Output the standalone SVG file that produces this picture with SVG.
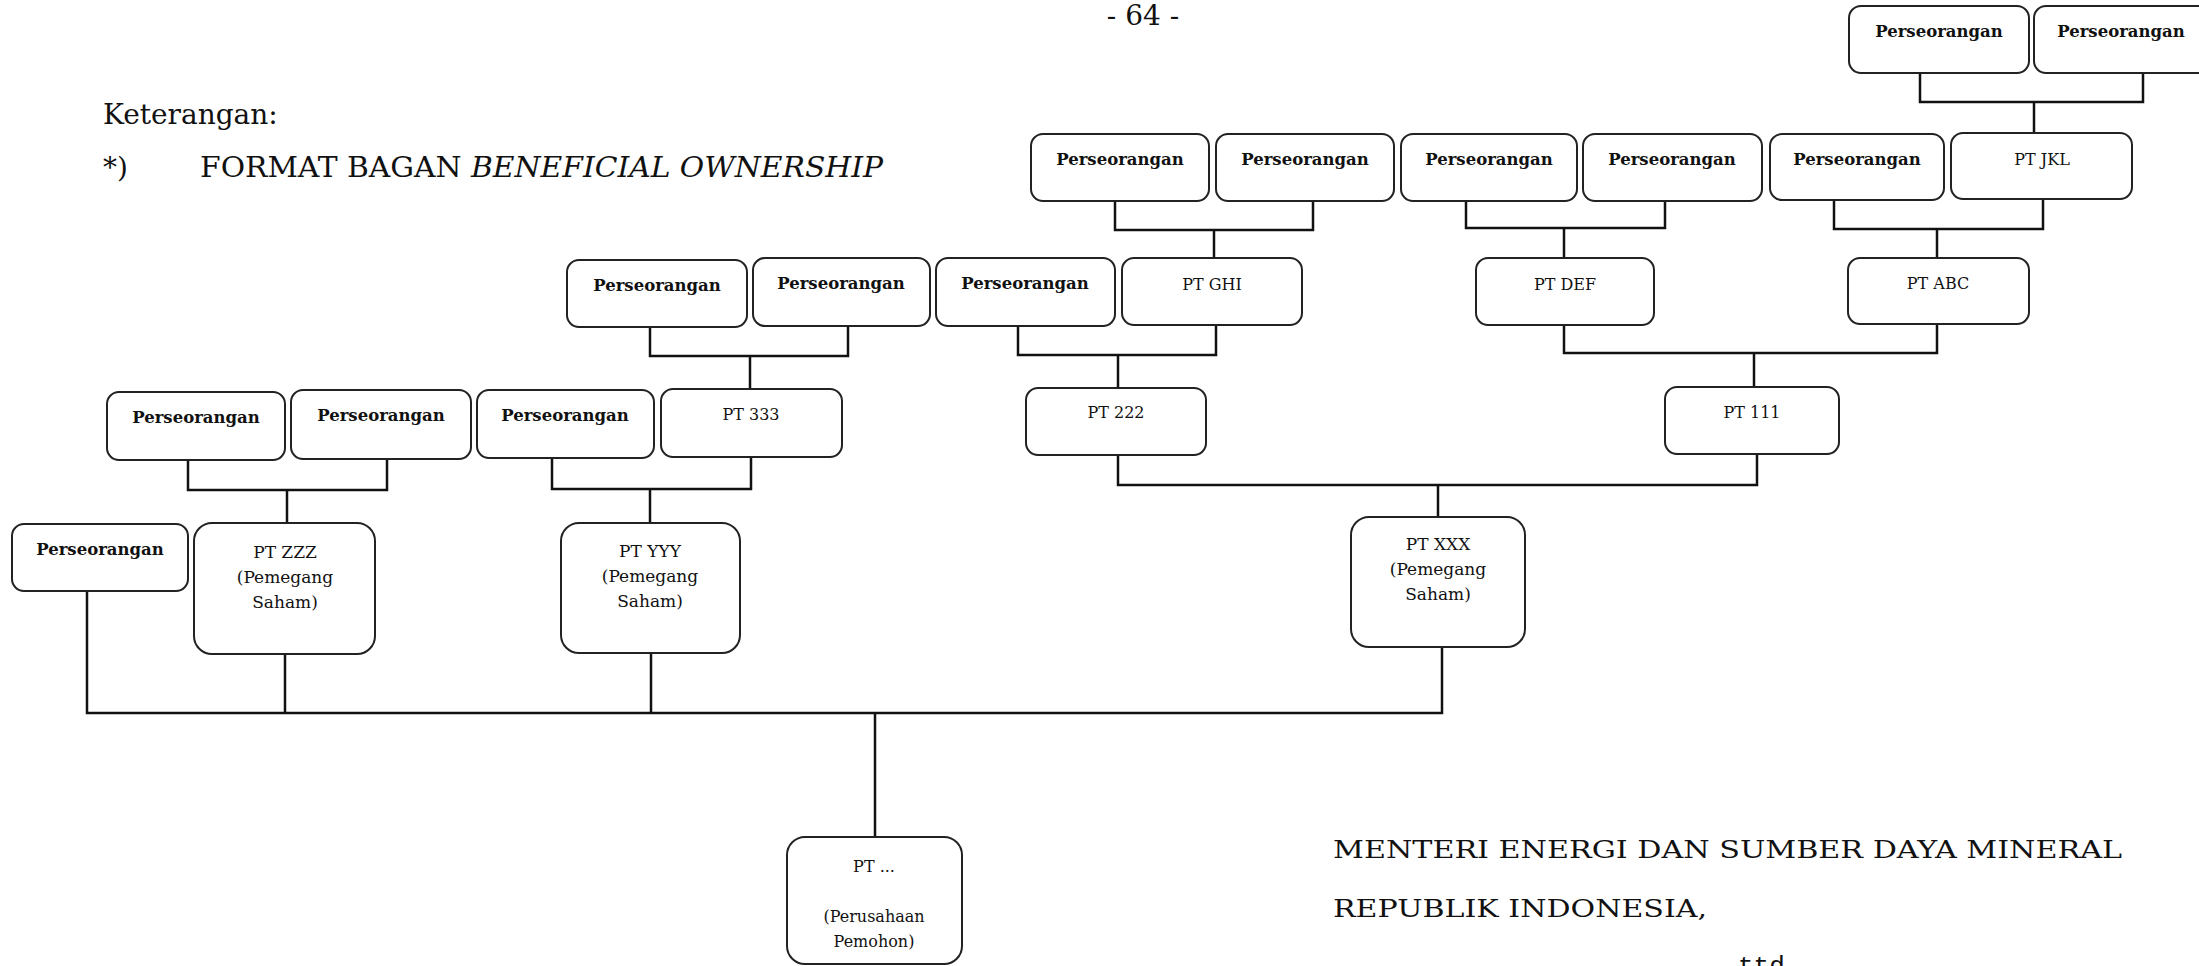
<svg xmlns="http://www.w3.org/2000/svg" width="2199" height="966" viewBox="0 0 2199 966">
<style>
.box{fill:#fff;stroke:#222;stroke-width:2}
.b{font-family:"DejaVu Serif","Liberation Serif",serif;font-weight:bold;font-size:16.5px;fill:#111;text-anchor:middle}
.r{font-family:"DejaVu Serif","Liberation Serif",serif;font-size:16px;fill:#111;text-anchor:middle}
.t{font-family:"DejaVu Serif","Liberation Serif",serif;font-size:17px;fill:#111;text-anchor:middle}
.hdr{font-family:"DejaVu Serif","Liberation Serif",serif;font-size:28px;fill:#111}
.sig{font-family:"DejaVu Serif","Liberation Serif",serif;font-size:24px;fill:#111}
.con{fill:none;stroke:#111;stroke-width:2.5}
</style>
<rect width="2199" height="966" fill="#fff"/>
<text class="hdr" x="1143" y="25" text-anchor="middle">- 64 -</text>
<text class="hdr" x="103" y="124">Keterangan:</text>
<text class="hdr" x="103" y="177">*)</text>
<text class="hdr" x="200" y="177" textLength="683" lengthAdjust="spacingAndGlyphs">FORMAT BAGAN <tspan font-style="italic">BENEFICIAL OWNERSHIP</tspan></text>

<g id="connectors">
<path class="con" d="M1920 73V102H2143V73M2034 102V133"/>
<path class="con" d="M1115 201V230H1313V201M1214 230V258"/>
<path class="con" d="M1466 201V228H1665V201M1564 228V258"/>
<path class="con" d="M1834 200V229H2043V199M1937 229V258"/>
<path class="con" d="M650 327V356H848V326M750 356V389"/>
<path class="con" d="M1018 326V355H1216V325M1118 355V388"/>
<path class="con" d="M1564 325V353H1937V324M1754 353V387"/>
<path class="con" d="M188 460V490H387V459M287 490V523"/>
<path class="con" d="M552 458V489H751V457M650 489V522"/>
<path class="con" d="M1118 455V485H1757V454M1438 485V517"/>
<path class="con" d="M87 591V713H1442V647M285 654V713M651 653V713M875 713V837"/>
</g>

<g id="n-a1"><rect class="box" x="1849" y="6" width="180" height="67" rx="12"/><text class="b" x="1939" y="37">Perseorangan</text></g>
<g id="n-a2"><rect class="box" x="2034" y="6" width="178" height="67" rx="12"/><text class="b" x="2121" y="37">Perseorangan</text></g>

<g id="n-b1"><rect class="box" x="1031" y="134" width="178" height="67" rx="12"/><text class="b" x="1120" y="165">Perseorangan</text></g>
<g id="n-b2"><rect class="box" x="1216" y="134" width="178" height="67" rx="12"/><text class="b" x="1305" y="165">Perseorangan</text></g>
<g id="n-b3"><rect class="box" x="1401" y="134" width="176" height="67" rx="12"/><text class="b" x="1489" y="165">Perseorangan</text></g>
<g id="n-b4"><rect class="box" x="1583" y="134" width="179" height="67" rx="12"/><text class="b" x="1672" y="165">Perseorangan</text></g>
<g id="n-b5"><rect class="box" x="1770" y="134" width="174" height="66" rx="12"/><text class="b" x="1857" y="165">Perseorangan</text></g>
<g id="n-jkl"><rect class="box" x="1951" y="133" width="181" height="66" rx="12"/><text class="r" x="2042" y="165">PT JKL</text></g>

<g id="n-c1"><rect class="box" x="567" y="260" width="180" height="67" rx="12"/><text class="b" x="657" y="291">Perseorangan</text></g>
<g id="n-c2"><rect class="box" x="753" y="258" width="177" height="68" rx="12"/><text class="b" x="841" y="289">Perseorangan</text></g>
<g id="n-c3"><rect class="box" x="936" y="258" width="179" height="68" rx="12"/><text class="b" x="1025" y="289">Perseorangan</text></g>
<g id="n-ghi"><rect class="box" x="1122" y="258" width="180" height="67" rx="12"/><text class="r" x="1212" y="290">PT GHI</text></g>
<g id="n-def"><rect class="box" x="1476" y="258" width="178" height="67" rx="12"/><text class="r" x="1565" y="290">PT DEF</text></g>
<g id="n-abc"><rect class="box" x="1848" y="258" width="181" height="66" rx="12"/><text class="r" x="1938" y="289">PT ABC</text></g>

<g id="n-d1"><rect class="box" x="107" y="392" width="178" height="68" rx="12"/><text class="b" x="196" y="423">Perseorangan</text></g>
<g id="n-d2"><rect class="box" x="291" y="390" width="180" height="69" rx="12"/><text class="b" x="381" y="421">Perseorangan</text></g>
<g id="n-d3"><rect class="box" x="477" y="390" width="177" height="68" rx="12"/><text class="b" x="565" y="421">Perseorangan</text></g>
<g id="n-333"><rect class="box" x="661" y="389" width="181" height="68" rx="12"/><text class="r" x="751" y="420">PT 333</text></g>
<g id="n-222"><rect class="box" x="1026" y="388" width="180" height="67" rx="12"/><text class="r" x="1116" y="418">PT 222</text></g>
<g id="n-111"><rect class="box" x="1665" y="387" width="174" height="67" rx="12"/><text class="r" x="1752" y="418">PT 111</text></g>

<g id="n-e1"><rect class="box" x="12" y="524" width="176" height="67" rx="12"/><text class="b" x="100" y="555">Perseorangan</text></g>
<g id="n-zzz"><rect class="box" x="194" y="523" width="181" height="131" rx="18"/><text class="t" x="285" y="558">PT ZZZ</text><text class="t" x="285" y="583">(Pemegang</text><text class="t" x="285" y="608">Saham)</text></g>
<g id="n-yyy"><rect class="box" x="561" y="523" width="179" height="130" rx="18"/><text class="t" x="650" y="557">PT YYY</text><text class="t" x="650" y="582">(Pemegang</text><text class="t" x="650" y="607">Saham)</text></g>
<g id="n-xxx"><rect class="box" x="1351" y="517" width="174" height="130" rx="18"/><text class="t" x="1438" y="550">PT XXX</text><text class="t" x="1438" y="575">(Pemegang</text><text class="t" x="1438" y="600">Saham)</text></g>

<g id="n-pt"><rect class="box" x="787" y="837" width="175" height="127" rx="18"/><text class="r" x="874" y="872">PT ...</text><text class="r" x="874" y="922">(Perusahaan</text><text class="r" x="874" y="947">Pemohon)</text></g>

<text class="sig" x="1333" y="858" textLength="789" lengthAdjust="spacingAndGlyphs">MENTERI ENERGI DAN SUMBER DAYA MINERAL</text>
<text class="sig" x="1333" y="917" textLength="374" lengthAdjust="spacingAndGlyphs">REPUBLIK INDONESIA,</text>
<text x="1738" y="974" font-family="Liberation Mono, monospace" font-size="26" fill="#111">ttd.</text>
</svg>
